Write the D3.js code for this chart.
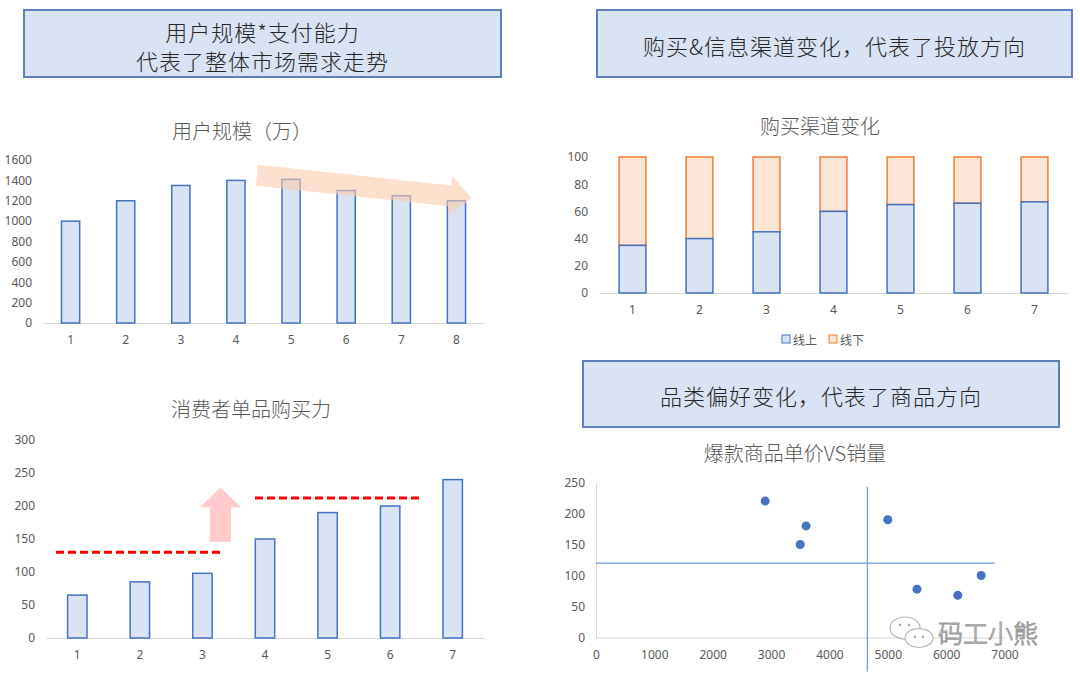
<!DOCTYPE html>
<html>
<head>
<meta charset="utf-8">
<script src="https://cdn.jsdelivr.net/npm/d3@7"></script>
<style>
  body { margin: 0; background: #fff; }
  svg text { font-family: "Noto Sans", "Noto Sans CJK SC", sans-serif; }
  .cjk { font-family: "Noto Sans CJK SC", sans-serif !important; }
</style>
</head>
<body>
<div id="chart"></div>
<script>
// headline boxes
const boxTitles = [
  ["用户规模*支付能力", "代表了整体市场需求走势"],
  ["购买&信息渠道变化，代表了投放方向"],
  ["品类偏好变化，代表了商品方向"]
];

// 用户规模（万）
const userCats = [1, 2, 3, 4, 5, 6, 7, 8];
const userScale = [1000, 1200, 1350, 1400, 1410, 1300, 1250, 1200];
const userTicks = [0, 200, 400, 600, 800, 1000, 1200, 1400, 1600];
const userTrend = [[4.38, 1450], [8.28, 1225]];   // [category pos, value]

// 消费者单品购买力
const powerCats = [1, 2, 3, 4, 5, 6, 7];
const powerValues = [65, 85, 98, 150, 190, 200, 240];
const powerTicks = [0, 50, 100, 150, 200, 250, 300];
const powerLevels = [[0.66, 3.3, 130], [3.84, 6.49, 212]];
const powerJump = [3.29, 146, 198, 228];        // pos, shaft bottom, head base, tip

// 购买渠道变化
const channelCats = [1, 2, 3, 4, 5, 6, 7];
const onlineShare = [35, 40, 45, 60, 65, 66, 67];
const offlineShare = [65, 60, 55, 40, 35, 34, 33];
const channelTicks = [0, 20, 40, 60, 80, 100];
const channelNames = ["线上", "线下"];

// 爆款商品单价VS销量
const priceValues = [2900, 3600, 3500, 5000, 5500, 6200, 6600];
const salesValues = [220, 180, 150, 190, 78, 68, 100];
const priceTicks = [0, 1000, 2000, 3000, 4000, 5000, 6000, 7000];
const salesTicks = [0, 50, 100, 150, 200, 250];
const priceSplit = 4650;
const salesSplit = 120;

const W = 1080, H = 685;
const labelColor = "#595959";
const axisColor = "#d9d9d9";
const blueFill = "#dae3f3", blueLine = "#4472c4";
const orangeFill = "#fbe5d6", orangeLine = "#ed7d31";
const fmt = d3.format("d");

const svg = d3.select("#chart").append("svg")
  .attr("width", W).attr("height", H);
svg.append("rect").attr("width", W).attr("height", H).attr("fill", "#fff");

// ---- headline boxes
const boxes = [
  { x: 24, y: 10, w: 477, h: 67, cy: [30.5, 59.5] },
  { x: 597, y: 10, w: 475, h: 67, cy: [44.5] },
  { x: 583, y: 361, w: 476, h: 66, cy: [395] }
];
boxes.forEach((b, i) => {
  svg.append("rect").attr("x", b.x).attr("y", b.y).attr("width", b.w).attr("height", b.h)
    .attr("fill", blueFill).attr("stroke", "#5f7fbf").attr("stroke-width", 2);
  boxTitles[i].forEach((t, j) => {
    svg.append("text").attr("class", "cjk")
      .attr("x", b.x + b.w / 2).attr("y", b.cy[j])
      .attr("text-anchor", "middle").attr("dominant-baseline", "central")
      .attr("font-size", 22).attr("font-weight", 300).attr("letter-spacing", 1)
      .attr("fill", "#262626").text(t);
  });
});

function chartTitle(text, x, y) {
  svg.append("text").attr("class", "cjk")
    .attr("x", x).attr("y", y)
    .attr("text-anchor", "middle").attr("dominant-baseline", "central")
    .attr("font-size", 20).attr("font-weight", 300).attr("fill", labelColor).text(text);
}

function styleAxis(g, showDomain) {
  g.selectAll("text").attr("fill", labelColor).attr("font-size", 12);
  g.select(".domain").attr("stroke", showDomain ? axisColor : "none");
  g.selectAll(".tick line").remove();
}

// category centre for a (possibly fractional) 1-based position
function catX(x, v) {
  return x.range()[0] + x.step() * (v - 0.5);
}

function barFrame(cats, ticks, left, right, bottom, top, pad) {
  const x = d3.scaleBand().domain(cats).range([left, right])
    .paddingInner(pad).paddingOuter(pad / 2);
  const y = d3.scaleLinear().domain([0, d3.max(ticks)]).range([bottom, top]);
  const gy = svg.append("g").attr("transform", `translate(${left},0)`)
    .call(d3.axisLeft(y).tickValues(ticks).tickFormat(fmt).tickSize(0).tickPadding(11));
  styleAxis(gy, false);
  const gx = svg.append("g").attr("transform", `translate(0,${bottom})`)
    .call(d3.axisBottom(x).tickSize(0).tickPadding(12));
  styleAxis(gx, true);
  return { x, y };
}

// ---- chart 1: 用户规模
chartTitle("用户规模（万）", 242, 130);
{
  const { x, y } = barFrame(userCats, userTicks, 43, 484, 323, 160, 0.67);
  svg.append("g").selectAll("rect").data(userScale).join("rect")
    .attr("x", (d, i) => x(userCats[i])).attr("y", d => y(d))
    .attr("width", x.bandwidth()).attr("height", d => y(0) - y(d))
    .attr("fill", blueFill).attr("stroke", blueLine).attr("stroke-width", 1.5);

  // trend arrow
  const p0 = [catX(x, userTrend[0][0]), y(userTrend[0][1])];
  const p1 = [catX(x, userTrend[1][0]), y(userTrend[1][1])];
  const len = Math.hypot(p1[0] - p0[0], p1[1] - p0[1]);
  const d = [(p1[0] - p0[0]) / len, (p1[1] - p0[1]) / len];
  const n = [d[1], -d[0]];
  const sw = 10.5, hw = 20, hl = 22;
  const neck = [p1[0] - d[0] * hl, p1[1] - d[1] * hl];
  const pt = (p, k) => [p[0] + n[0] * k, p[1] + n[1] * k];
  const pts = [pt(p0, sw), pt(neck, sw), pt(neck, hw), p1, pt(neck, -hw), pt(neck, -sw), pt(p0, -sw)];
  svg.append("path").attr("d", d3.line()(pts) + "Z")
    .attr("fill", "#f8cbad").attr("opacity", 0.6);
}

// ---- chart 2: 消费者单品购买力
chartTitle("消费者单品购买力", 251, 408);
{
  const { x, y } = barFrame(powerCats, powerTicks, 46, 484, 638, 440, 0.69);
  svg.append("g").selectAll("rect").data(powerValues).join("rect")
    .attr("x", (d, i) => x(powerCats[i])).attr("y", d => y(d))
    .attr("width", x.bandwidth()).attr("height", d => y(0) - y(d))
    .attr("fill", blueFill).attr("stroke", blueLine).attr("stroke-width", 1.5);

  svg.append("g").selectAll("line").data(powerLevels).join("line")
    .attr("x1", d => catX(x, d[0])).attr("x2", d => catX(x, d[1]))
    .attr("y1", d => y(d[2])).attr("y2", d => y(d[2]))
    .attr("stroke", "#ff0000").attr("stroke-width", 3).attr("stroke-dasharray", "8,4");

  const cx = catX(x, powerJump[0]);
  const ys = powerJump.slice(1).map(v => y(v));
  const arrow = [[cx - 10.5, ys[0]], [cx - 10.5, ys[1]], [cx - 20.5, ys[1]], [cx, ys[2]],
                 [cx + 20.5, ys[1]], [cx + 10.5, ys[1]], [cx + 10.5, ys[0]]];
  svg.append("path").attr("d", d3.line()(arrow) + "Z").attr("fill", "#ffcaca");
}

// ---- chart 3: 购买渠道变化
chartTitle("购买渠道变化", 820, 125);
{
  const { x, y } = barFrame(channelCats, channelTicks, 599, 1068, 293, 157, 0.6);
  const stack = channelCats.map((c, i) => ({ c, on: onlineShare[i], off: offlineShare[i] }));
  svg.append("g").selectAll("rect").data(stack).join("rect")
    .attr("x", d => x(d.c)).attr("y", d => y(d.on + d.off))
    .attr("width", x.bandwidth()).attr("height", d => y(d.on) - y(d.on + d.off))
    .attr("fill", orangeFill).attr("stroke", orangeLine).attr("stroke-width", 1.5);
  svg.append("g").selectAll("rect").data(stack).join("rect")
    .attr("x", d => x(d.c)).attr("y", d => y(d.on))
    .attr("width", x.bandwidth()).attr("height", d => y(0) - y(d.on))
    .attr("fill", blueFill).attr("stroke", blueLine).attr("stroke-width", 1.5);

  const leg = svg.append("g").attr("transform", "translate(782,339)");
  [[blueFill, blueLine], [orangeFill, orangeLine]].forEach((c, i) => {
    const g = leg.append("g").attr("transform", `translate(${i * 47},0)`);
    g.append("rect").attr("x", 0).attr("y", -4).attr("width", 8).attr("height", 8)
      .attr("fill", c[0]).attr("stroke", c[1]).attr("stroke-width", 1);
    g.append("text").attr("class", "cjk").attr("x", 11).attr("y", 0)
      .attr("dominant-baseline", "central").attr("font-size", 12)
      .attr("fill", labelColor).text(channelNames[i]);
  });
}

// ---- chart 4: 爆款商品单价VS销量
chartTitle("爆款商品单价VS销量", 795, 452);
{
  const x = d3.scaleLinear().domain([0, 7000]).range([596, 1004.5]);
  const y = d3.scaleLinear().domain([0, 250]).range([637.5, 482.5]);
  const gy = svg.append("g").attr("transform", "translate(596,0)")
    .call(d3.axisLeft(y).tickValues(salesTicks).tickFormat(fmt).tickSize(0).tickPadding(11));
  styleAxis(gy, true);
  const gx = svg.append("g").attr("transform", "translate(0,637.5)")
    .call(d3.axisBottom(x).tickValues(priceTicks).tickFormat(fmt).tickSize(0).tickPadding(13));
  styleAxis(gx, true);

  svg.append("line").attr("x1", x(0)).attr("x2", x(6830))
    .attr("y1", y(salesSplit)).attr("y2", y(salesSplit))
    .attr("stroke", "#6f9ad8").attr("stroke-width", 1.2);
  svg.append("line").attr("x1", x(priceSplit)).attr("x2", x(priceSplit))
    .attr("y1", y(243)).attr("y2", y(-55))
    .attr("stroke", "#6f9ad8").attr("stroke-width", 1.2);

  svg.append("g").selectAll("circle").data(priceValues).join("circle")
    .attr("cx", d => x(d)).attr("cy", (d, i) => y(salesValues[i]))
    .attr("r", 4.5).attr("fill", blueLine);
}

// ---- watermark
{
  const wm = svg.append("g").attr("opacity", 0.85);
  wm.append("ellipse").attr("cx", 905).attr("cy", 628).attr("rx", 15).attr("ry", 11)
    .attr("fill", "#fff").attr("stroke", "#aaa").attr("stroke-width", 1.2);
  wm.append("ellipse").attr("cx", 919).attr("cy", 638).attr("rx", 14).attr("ry", 9.5)
    .attr("fill", "#fff").attr("stroke", "#aaa").attr("stroke-width", 1.2);
  [[900, 625], [909, 625], [915, 637], [923, 637]].forEach(p =>
    wm.append("circle").attr("cx", p[0]).attr("cy", p[1]).attr("r", 1.2).attr("fill", "#999"));
  wm.append("text").attr("class", "cjk").attr("x", 938).attr("y", 632)
    .attr("dominant-baseline", "central").attr("font-size", 25).attr("font-weight", 300)
    .attr("fill", "#fff").attr("stroke", "#8a8a8a").attr("stroke-width", 1)
    .text("码工小熊");
}
</script>
</body>
</html>
